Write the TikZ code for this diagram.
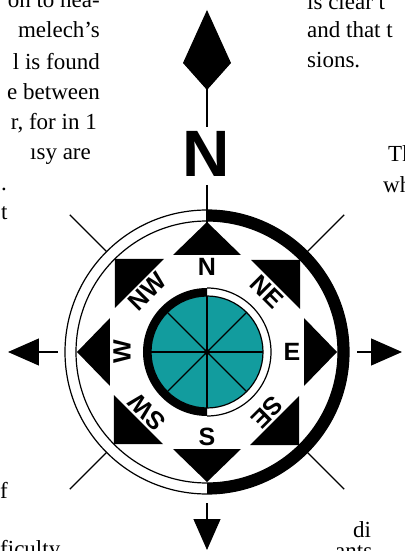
\documentclass[tikz,border=0pt]{standalone}
\usepackage{fontspec}
\setmainfont{Liberation Serif}
\newfontfamily\compassfont{Liberation Sans}
\usepackage{tikz}
\usetikzlibrary{arrows.meta}
\definecolor{cteal}{RGB}{18,156,158}
\tikzset{
  rim/.style={line width=1.2pt, draw=black},
  pt/.style={font=\compassfont\bfseries\fontsize{25}{25}\selectfont, inner sep=0pt},
  bookl/.style={font=\fontsize{23}{30}\selectfont, inner sep=0pt, anchor=base east},
  bookr/.style={font=\fontsize{23}{30}\selectfont, inner sep=0pt, anchor=base west},
}

\begin{document}
\begin{tikzpicture}[x=1pt,y=1pt]
\useasboundingbox (-207,-199) rectangle (197,352);
% surrounding page text
\foreach \i/\y/\x/\txt in {
  1/344/-107/{on to hea-},
  2/314/-107/{melech’s},
  3/282/-107/{l is found},
  4/252/-107/{e between},
  5/222/-110/{r, for in 1}}
{
  \node[bookl] (l\i) at (\x,\y) {\txt};
}
\node[bookr] (l6) at (-177,192) {ısy are};
\node[bookr] (l7) at (-206,161) {.};
\node[bookr] (l8) at (-206,132) {t};
\node[bookr] (l9) at (-207,-146) {f};
\node[bookr] (l10) at (-207,-204) {ficulty};
\foreach \i/\y/\x/\txt in {
  1/342/100/{is clear t},
  2/314/100/{and that t},
  3/284/100/{sions.},
  4/190/181/{Th},
  5/159/176/{wh},
  6/-185/146/{di},
  7/-206/128/{ants}}
{
  \node[bookr] (r\i) at (\x,\y) {\txt};
}
% outer ring
\fill (90:142) arc[start angle=90, end angle=-90, radius=142]
  -- (-90:131) arc[start angle=-90, end angle=90, radius=131] -- cycle;
\draw[rim] (0,0) circle[radius=142];
\draw[rim] (0,0) circle[radius=131];
\foreach \a in {45,135,225,315}
  \draw[rim] (\a:142) -- (\a:194);
% north pointer
\coordinate (kb) at (0,225);
\coordinate (kt) at (0,342);
\draw[rim, -{Kite[length=80pt, width=48pt, inset=27pt]}] (kb) -- (kt);
\node[font=\compassfont\bfseries\fontsize{65.6}{66}\selectfont, inner sep=0pt]
  (bigN) at (-1,198.5) {N};
\coordinate (na) at (0,167);
\coordinate (nb) at (0,129);
\draw[rim] (na) -- (nb);
% other pointers
\foreach \n/\xa/\ya/\xb/\yb in {w/-149/0/-199/0, e/150/0/195/0, s/0/-151/0/-198}
{
  \coordinate (\n0) at (\xa,\ya);
  \coordinate (\n1) at (\xb,\yb);
  \draw[rim, -{Triangle[length=31pt, width=27pt]}] (\n0) -- (\n1);
}
% rose
\foreach \a in {0,90,180,270}
{
  \fill[rotate=\a] (0,130) -- (-34,97) -- (34,97) -- cycle;
  \fill[rotate=\a] (93,92) -- (44,92) -- (93,43) -- cycle;
}
\foreach \i/\a/\r/\lab in {
  1/90/0/N, 2/45/-45/NE, 3/0/0/E, 4/-45/-135/SE,
  5/-90/0/S, 6/-135/135/SW, 7/180/90/W, 8/135/45/NW}
{
  \node[pt, rotate=\r] (pt\i) at (\a:85) {\lab};
}
% inner dial
\fill (90:64) arc[start angle=90, end angle=270, radius=64]
  -- (270:56) arc[start angle=270, end angle=90, radius=56] -- cycle;
\draw[rim] (90:64) arc[start angle=90, end angle=-90, radius=64];
\fill[cteal, draw=black, line width=1.2pt] (0,0) circle[radius=56];
\foreach \a in {0,45,...,315}
  \draw[rim] (0,0) -- (\a:56);
\fill (0,0) circle[radius=3];
\end{tikzpicture}
\end{document}
